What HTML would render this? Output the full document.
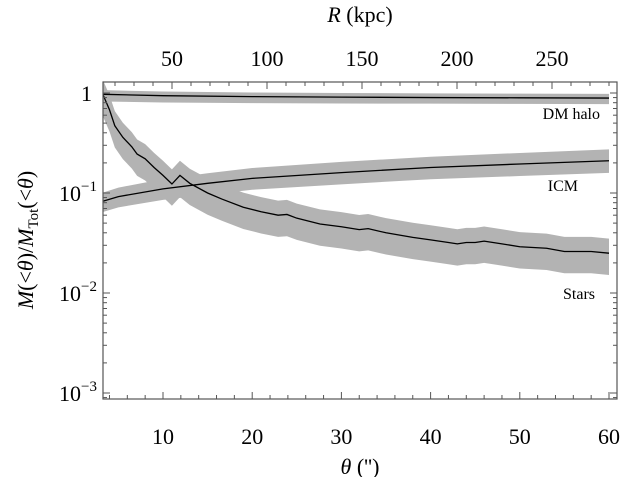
<!DOCTYPE html>
<html><head><meta charset="utf-8"><style>
html,body{margin:0;padding:0;background:#fff;}
svg, svg text{font-family:"Liberation Serif","DejaVu Serif",serif;}
</style></head><body>
<svg id="chart" width="624" height="477" viewBox="0 0 624 477" xmlns="http://www.w3.org/2000/svg" font-family="Liberation Serif, serif">
<g id="bands"></g>
<g id="lines"></g>
<rect x="103" y="82" width="514" height="317" fill="none" stroke="#555" stroke-width="1.2"/>
<g id="ticks" stroke="#555" stroke-width="1"></g>
<g id="labels" font-size="22" fill="#000"></g>
<text x="600" y="119" font-size="16" text-anchor="end">DM halo</text>
<text x="578" y="191" font-size="16" text-anchor="end">ICM</text>
<text x="595" y="299" font-size="16" text-anchor="end">Stars</text>
<text x="360" y="474" font-size="22" text-anchor="middle"><tspan font-style="italic">θ</tspan> ('')</text>
<text x="360" y="22" font-size="22" text-anchor="middle"><tspan font-style="italic">R</tspan> (kpc)</text>
<text transform="translate(33,240) rotate(-90)" font-size="22" text-anchor="middle"><tspan font-style="italic">M</tspan>(&lt;<tspan font-style="italic">θ</tspan>)/<tspan font-style="italic">M</tspan><tspan font-size="15" dy="5">Tot</tspan><tspan dy="-5">(&lt;</tspan><tspan font-style="italic">θ</tspan>)</text>
</svg>
<script>
const dmTheta=[3.3,10,20,30,40,50,60];
const dmValues=[0.97,0.94,0.92,0.91,0.90,0.895,0.89];
const dmHiFactor=[1.1,1.1,1.1,1.1,1.1,1.1,1.1];
const dmLoFactor=[1.18,1.17,1.16,1.16,1.15,1.15,1.15];
const icmTheta=[3.3,5,10,15,20,30,40,50,60];
const icmValues=[0.083,0.092,0.11,0.125,0.14,0.16,0.18,0.195,0.21];
const icmHiFactor=[1.22,1.23,1.25,1.26,1.27,1.28,1.28,1.29,1.3];
const icmLoFactor=[1.28,1.28,1.29,1.3,1.3,1.31,1.31,1.32,1.32];
const starTheta=[3.3,4,4.6,5.5,6.5,7.1,8,9,10,11,11.9,13,15,16.6,19,21,22.9,23.9,25,27.6,30,32,33,35,38,40,42,43,44,45,46,48,50,53,55,58,60];
const starValues=[0.95,0.68,0.47,0.36,0.29,0.245,0.22,0.18,0.15,0.123,0.15,0.125,0.1,0.087,0.072,0.065,0.06,0.061,0.056,0.049,0.046,0.043,0.044,0.04,0.036,0.034,0.032,0.031,0.032,0.032,0.033,0.031,0.029,0.028,0.026,0.026,0.025];
const starHiFactor=1.4, starLoFactor=1.65;
const xTickLabels=[10,20,30,40,50,60];
const rTickLabels=[50,100,150,200,250];
const yDecades=[0,-1,-2,-3];

const NS="http://www.w3.org/2000/svg";
const xS=t=>163+(t-10)*8.92;
const yS=v=>93-100*Math.log10(v);
const rS=r=>77+1.9*r;
const L=103,R=617,T=82,B=399;
function mk(tag,attrs,parent){const e=document.createElementNS(NS,tag);for(const k in attrs)e.setAttribute(k,attrs[k]);parent.appendChild(e);return e;}
const bands=document.getElementById('bands'),lines=document.getElementById('lines'),ticks=document.getElementById('ticks'),labels=document.getElementById('labels');
function series(th,vals,hi,lo,name){
  const hf=i=>Array.isArray(hi)?hi[i]:hi, lf=i=>Array.isArray(lo)?lo[i]:lo;
  let up=th.map((t,i)=>xS(t)+','+yS(vals[i]*hf(i)));
  let dn=th.map((t,i)=>xS(t)+','+yS(vals[i]/lf(i))).reverse();
  const b=mk('polygon',{points:up.concat(dn).join(' '),fill:'#b3b3b3'},bands);
  
  
  const l=mk('polyline',{points:th.map((t,i)=>xS(t)+','+yS(vals[i])).join(' '),fill:'none',stroke:'#000','stroke-width':1.3},lines);
  
  
}
series(dmTheta,dmValues,dmHiFactor,dmLoFactor,'dm-halo');
series(icmTheta,icmValues,icmHiFactor,icmLoFactor,'icm');
series(starTheta,starValues,starHiFactor,starLoFactor,'stars');
for(let t=4;t<=60;t+=2){const x=xS(t);const len=t%10===0?7:4;
  const a=mk('line',{x1:x,x2:x,y1:B,y2:B-len},ticks);
  
  }
xTickLabels.forEach(t=>{const e=mk('text',{x:xS(t),y:444,'text-anchor':'middle','font-family':'Liberation Serif, serif'},labels);e.textContent=t;
  
  });
for(let r=10;r<=320;r+=10){const x=rS(r);if(x<=L||x>=R)continue;const len=r%50===0?7:4;
  const a=mk('line',{x1:x,x2:x,y1:T,y2:T+len},ticks);
  
  }
rTickLabels.forEach(r=>{const e=mk('text',{x:rS(r),y:66,'text-anchor':'middle','font-family':'Liberation Serif, serif'},labels);e.textContent=r;
  
  });
for(let d=-4;d<=0;d++){for(let m=1;m<=9;m++){const v=m*Math.pow(10,d);const y=yS(v);if(y<T||y>B)continue;const len=m===1?7:4;
  const a=mk('line',{x1:L,x2:L+len,y1:y,y2:y},ticks);
  
  
  const b=mk('line',{x1:R,x2:R-len,y1:y,y2:y},ticks);
  
  }}
yDecades.forEach(d=>{const y=yS(Math.pow(10,d));const e=mk('text',{x:92,y:y+8,'text-anchor':'end','font-family':'Liberation Serif, serif'},labels);
  
  
  if(d===0){e.textContent='1';}else{e.textContent='10';const s=mk('tspan',{dy:-10,'font-size':15},e);s.textContent='−'+(-d);
    e.setAttribute('x',97);}
});
</script>
</body></html>
